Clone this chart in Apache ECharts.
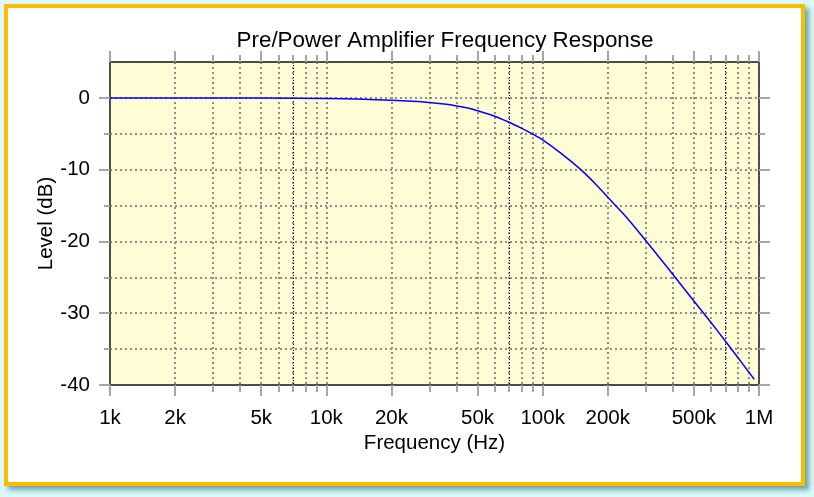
<!DOCTYPE html>
<html>
<head>
<meta charset="utf-8">
<title>Pre/Power Amplifier Frequency Response</title>
<script src="https://cdn.jsdelivr.net/npm/echarts@6/dist/echarts.min.js"></script>
<style>
    html, body {
        margin: 0;
        padding: 0;
    }
    body {
        width: 814px;
        height: 497px;
        position: relative;
        overflow: hidden;
        background: #dcf8fa;
    }
    #frame {
        position: absolute;
        left: 4px;
        top: 4px;
        width: 801px;
        height: 482px;
        box-sizing: border-box;
        border: 4px solid #ffbb00;
        background: #fff;
        box-shadow: 4px 4px 5px #6aa6a8;
    }
    #chart {
        position: absolute;
        left: 0;
        top: 0;
        width: 814px;
        height: 497px;
    }
</style>
</head>
<body>
<div id="frame"></div>
<div id="chart"></div>
<script>
const freqs = [1000, 2000, 5000, 10000, 15000, 20000, 25000, 30000, 35000, 40000, 45000, 50000,
    60000, 70000, 80000, 90000, 100000, 120000, 150000, 175000, 200000, 250000, 300000, 350000,
    400000, 500000, 600000, 700000, 800000, 900000, 950000]
const levels = [0, -0.01, -0.03, -0.08, -0.18, -0.32, -0.47, -0.64, -0.86, -1.12, -1.42, -1.8,
    -2.55, -3.4, -4.25, -5.05, -5.85, -7.6, -10.0, -11.95, -13.85, -17.0, -19.9, -22.4,
    -24.6, -28.3, -31.3, -33.9, -36.2, -38.25, -39.2]

const majorFreqs = [1000, 2000, 5000, 10000, 20000, 50000, 100000, 200000, 500000, 1000000]
const minorFreqs = [3000, 4000, 6000, 7000, 8000, 9000,
    30000, 40000, 60000, 70000, 80000, 90000,
    300000, 400000, 600000, 700000, 800000, 900000]
const darkFreqs = [7000, 70000, 700000]
const majorLevels = [-40, -30, -20, -10, 0]
const minorLevels = [-35, -25, -15, -5]

const fontFamily = 'Liberation Sans, Arial, sans-serif'
const tickColor = '#a6a6a6'
const gridLine = { color: '#8f8f84', type: [2, 3], width: 2 }
const borderLine = { color: '#4a4a4a', type: [2, 1], width: 2 }

const freqLabel = (v) => (v >= 1000000 ? v / 1000000 + 'M' : v / 1000 + 'k')

const xAxisBase = {
    type: 'log',
    logBase: 10,
    min: 1000,
    max: 1000000,
    axisLabel: { show: false },
    axisLine: { show: false, onZero: false },
    splitLine: { show: false },
    axisTick: { show: false }
}

const yAxisBase = {
    type: 'value',
    min: -40,
    max: 5,
    axisLabel: { show: false },
    axisLine: { show: false, onZero: false },
    splitLine: { show: false },
    axisTick: { show: false }
}

const chart = echarts.init(document.getElementById('chart'), null, { renderer: 'canvas' })

chart.setOption({
    animation: false,
    backgroundColor: 'transparent',
    textStyle: { fontFamily },
    title: {
        text: 'Pre/Power Amplifier Frequency Response',
        left: 440,
        top: 25,
        textAlign: 'center',
        textStyle: { fontSize: 22.4, fontWeight: 'normal', color: '#000', fontFamily }
    },
    grid: {
        left: 110,
        right: 55,
        top: 62,
        bottom: 112,
        show: true,
        backgroundColor: '#fffcd6',
        borderWidth: 0
    },
    xAxis: [
        {
            ...xAxisBase,
            position: 'bottom',
            name: 'Frequency (Hz)',
            nameLocation: 'middle',
            nameGap: 48,
            nameMoveOverlap: false,
            nameTextStyle: { fontSize: 20.5, color: '#000', fontFamily },
            axisLine: { show: true, onZero: false, lineStyle: borderLine },
            axisTick: { show: true, inside: false, length: 11, customValues: majorFreqs, lineStyle: { color: tickColor, width: 2 } },
            axisLabel: { show: true, customValues: majorFreqs, formatter: freqLabel, margin: 23, fontSize: 20.5, color: '#000', fontFamily },
            splitLine: { show: true, lineStyle: gridLine }
        },
        {
            ...xAxisBase,
            position: 'bottom',
            axisTick: { show: true, inside: false, length: 7, customValues: minorFreqs, lineStyle: { color: tickColor, width: 2 } },
            splitLine: { show: true, lineStyle: gridLine }
        },
        {
            ...xAxisBase,
            position: 'top',
            axisLine: { show: true, onZero: false, lineStyle: borderLine },
            axisTick: { show: true, inside: false, length: 11, customValues: majorFreqs, lineStyle: { color: tickColor, width: 2 } }
        },
        {
            ...xAxisBase,
            position: 'top',
            axisTick: { show: true, inside: false, length: 7, customValues: minorFreqs, lineStyle: { color: tickColor, width: 2 } }
        },
        {
            ...xAxisBase,
            position: 'bottom',
            axisTick: { show: false, customValues: darkFreqs },
            splitLine: { show: true, lineStyle: { color: '#000', type: [1, 2], width: 1 } }
        }
    ],
    yAxis: [
        {
            ...yAxisBase,
            position: 'left',
            name: 'Level (dB)',
            nameLocation: 'middle',
            nameGap: 53,
            nameMoveOverlap: false,
            nameRotate: 90,
            nameTextStyle: { fontSize: 20.5, color: '#000', fontFamily },
            axisLine: { show: true, onZero: false, lineStyle: borderLine },
            axisTick: { show: true, inside: false, length: 11, customValues: majorLevels, lineStyle: { color: tickColor, width: 2 } },
            axisLabel: { show: true, customValues: majorLevels, margin: 20, fontSize: 20.5, color: '#000', fontFamily },
            splitLine: { show: true, lineStyle: gridLine }
        },
        {
            ...yAxisBase,
            position: 'left',
            axisTick: { show: true, inside: false, length: 6, customValues: minorLevels, lineStyle: { color: tickColor, width: 2 } },
            splitLine: { show: true, lineStyle: gridLine }
        },
        {
            ...yAxisBase,
            position: 'right',
            axisLine: { show: true, onZero: false, lineStyle: borderLine },
            axisTick: { show: true, inside: false, length: 11, customValues: majorLevels, lineStyle: { color: tickColor, width: 2 } }
        },
        {
            ...yAxisBase,
            position: 'right',
            axisTick: { show: true, inside: false, length: 6, customValues: minorLevels, lineStyle: { color: tickColor, width: 2 } }
        }
    ],
    series: [
        {
            type: 'line',
            xAxisIndex: 0,
            yAxisIndex: 0,
            data: freqs.map((f, i) => [f, levels[i]]),
            showSymbol: false,
            smooth: 0.3,
            lineStyle: { color: '#0000ff', width: 1.5 },
            z: 5
        }
    ]
})
</script>
</body>
</html>
